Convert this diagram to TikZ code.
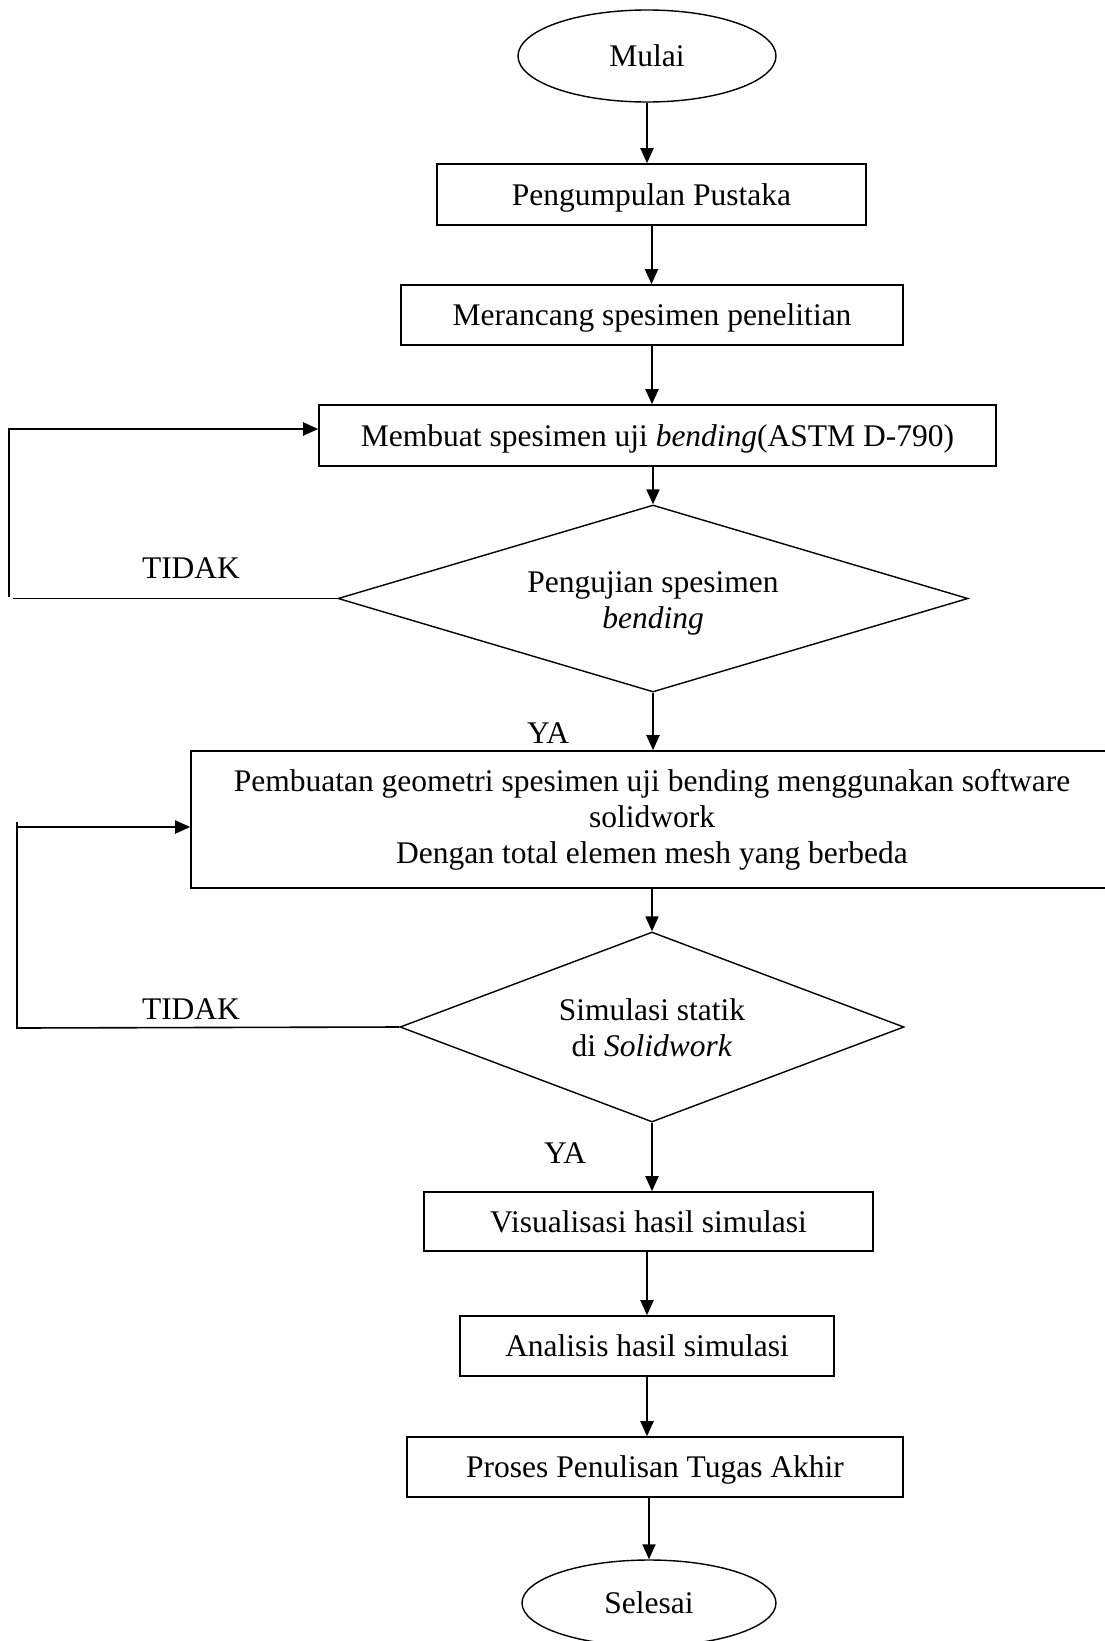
\documentclass[tikz,border=0pt]{standalone}
\usepackage{fontspec}
\setmainfont{Liberation Serif}
\usetikzlibrary{shapes.geometric,arrows.meta}
\begin{document}
\begin{tikzpicture}[x=1pt,y=-1pt,
  txt/.style={font=\fontsize{31.5}{36}\selectfont},
  box/.style={txt,draw,line width=1.6pt,rectangle,inner sep=0pt,align=center},
  one/.style={text height=28.5pt,text depth=7pt},
  term/.style={txt,draw,line width=1.4pt,ellipse,inner sep=0pt},
  dec/.style={draw,line width=1.4pt,diamond,inner sep=0pt},
  ln/.style={line width=1.6pt},
  arr/.style={line width=2pt,-{Triangle[length=15pt,width=13pt]}},
  lbl/.style={txt,inner sep=0pt}]
\useasboundingbox (0,0) rectangle (1105,1641);
\node[term,minimum width=258pt,minimum height=92pt] (start) at (647,56) {Mulai};
\node[box,one,minimum width=429pt,minimum height=61pt] (b1) at (651.5,194.5) {Pengumpulan Pustaka};
\node[box,one,minimum width=502pt,minimum height=60pt] (b2) at (652,315) {Merancang spesimen penelitian};
\node[box,one,minimum width=677pt,minimum height=61pt] (b3) at (657.5,435.5) {Membuat spesimen uji \textit{bending}(ASTM D-790)};
\node[dec,minimum width=630pt,minimum height=187pt] (d1) at (653,598.5) {};
\node[lbl,align=center] (d1t) at (653,603) {Pengujian spesimen\\\textit{bending}};
\node[box,minimum width=922pt,minimum height=137pt] (b4) at (652,819.5) {Pembuatan geometri spesimen uji bending menggunakan software\\solidwork\\Dengan total elemen mesh yang berbeda};
\node[dec,minimum width=504pt,minimum height=190pt] (d2) at (652,1027) {};
\node[lbl,align=center] (d2t) at (652,1028) {Simulasi statik\\di \textit{Solidwork}};
\node[box,one,minimum width=449pt,minimum height=59pt] (b5) at (648.5,1221.5) {Visualisasi hasil simulasi};
\node[box,one,minimum width=374pt,minimum height=60pt] (b6) at (647,1346) {Analisis hasil simulasi};
\node[box,one,minimum width=496pt,minimum height=60pt] (b7) at (655,1467) {Proses Penulisan Tugas Akhir};
\node[term,minimum width=254pt,minimum height=86pt] (end) at (649,1603) {Selesai};
% labels
\node[lbl] (t1) at (191,568) {TIDAK};
\node[lbl] (t2) at (191,1009) {TIDAK};
\node[lbl] (y1) at (548,733) {YA};
\node[lbl] (y2) at (565,1153) {YA};
% main arrows
\draw[arr] (start.south) -- (start.south |- b1.north);
\draw[arr] (b1.south) -- (b1.south |- b2.north);
\draw[arr] (b2.south) -- (b2.south |- b3.north);
\draw[arr] (b3.south -| d1.north) -- (d1.north);
\draw[arr] (d1.south) -- (d1.south |- b4.north);
\draw[arr] (b4.south) -- (b4.south |- d2.north);
\draw[arr] (d2.south) -- (d2.south |- b5.north);
\draw[arr] (b5.south -| b6.north) -- (b6.north);
\draw[arr] (b6.south) -- (b6.south |- b7.north);
\draw[arr] (b7.south -| end.north) -- (end.north);
% feedback loops
\coordinate (f1h) at (13,598.5);
\coordinate (f1b) at (9,597);
\coordinate (f1t) at (9,429);
\draw[ln] (d1.west) -- (f1h);
\draw[arr] (f1b) -- (f1t) -- (f1t -| b3.west);
\coordinate (f2b) at (17,1028);
\coordinate (f2v) at (17,822);
\coordinate (f2t) at (17,827);
\draw[ln] (d2.west) -- (f2b) -- (f2v);
\draw[arr] (f2t) -- (f2t -| b4.west);
\end{tikzpicture}
\end{document}
